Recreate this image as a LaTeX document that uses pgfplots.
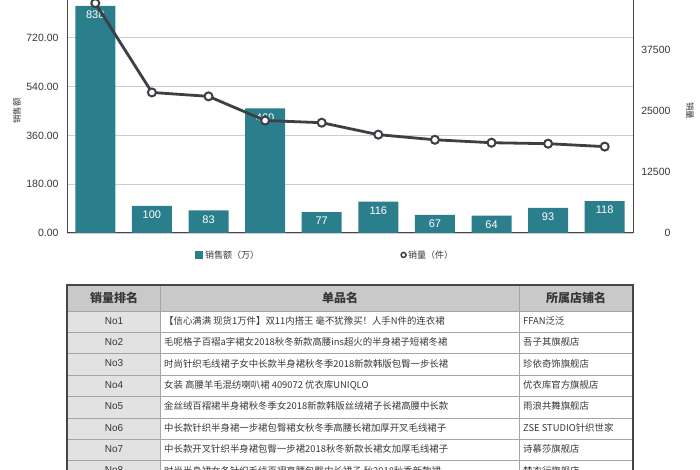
\documentclass[border=0pt]{standalone}
\usepackage{fontspec}
\setmainfont{Liberation Sans}
\newfontfamily\cjk{Noto Sans CJK SC}
\usepackage{pgfplots}
\pgfplotsset{compat=1.18}

\definecolor{barteal}{RGB}{43,127,140}
\definecolor{linegray}{RGB}{60,64,68}
\definecolor{gridgray}{RGB}{205,205,205}
\definecolor{axisgray}{RGB}{70,70,70}
\definecolor{hdrgray}{RGB}{201,201,201}
\definecolor{colgray}{RGB}{226,226,226}
\definecolor{rulegray}{RGB}{165,165,165}
\definecolor{txtgray}{RGB}{55,55,55}

\begin{document}
\begin{tikzpicture}[x=1pt,y=1pt]
\useasboundingbox (0,0) rectangle (700,470);
\begin{scope}
\clip (0,0) rectangle (700,470);

% sales amount (left axis)
\begin{axis}[
  at={(67pt,237pt)}, anchor=south west,
  scale only axis, width=566pt, height=244pt,
  xmin=0.5, xmax=10.5, ymin=0, ymax=900,
  xtick=\empty,
  ytick={0,180,360,540,720},
  ymajorgrids, grid style={gridgray, line width=0.8pt},
  axis line style={axisgray, line width=1pt},
  major tick length=0pt,
  /pgf/number format/assume math mode=true,
  yticklabel style={/pgf/number format/.cd, fixed, fixed zerofill, precision=2, /tikz/.cd,
    font=\fontsize{10.5}{12}\selectfont, text=txtgray, xshift=-5pt},
  ylabel={销售额},
  ylabel style={font=\cjk\fontsize{8.5}{10}\selectfont, text=txtgray,
    at={(axis description cs:-0.0883,0.5)}, anchor=center},
  legend style={draw=none, at={(0.456,-0.09)}, anchor=center,
    font=\cjk\fontsize{9}{11}\selectfont, text=txtgray,
    /tikz/every even column/.append style={column sep=140pt}},
  legend columns=2,
]
\addplot[ybar, bar width=40pt, bar shift=0pt, fill=barteal, draw=none,
  legend image code/.code={\fill[barteal] (0pt,-4pt) rectangle (8pt,4pt);},
  nodes near coords,
  nodes near coords style={font=\fontsize{11}{12}\selectfont, text=white, anchor=center, yshift=-9pt}]
  coordinates {(1,838) (2,100) (3,83) (4,460) (5,77) (6,116) (7,67) (8,64) (9,93) (10,118)};
\addlegendentry{销售额（万）}
\addlegendimage{only marks, mark=*, mark size=2.5pt, mark options={fill=white, draw=linegray, line width=1.5pt}}
\addlegendentry{销量（件）}
\end{axis}

% sales volume (right axis)
\begin{axis}[
  at={(67pt,237pt)}, anchor=south west,
  scale only axis, width=566pt, height=244pt,
  xmin=0.5, xmax=10.5, ymin=0, ymax=50000,
  axis x line=none, axis y line*=right,
  axis line style={axisgray, line width=1pt},
  ytick={0,12500,25000,37500},
  major tick length=0pt,
  scaled y ticks=false,
  /pgf/number format/assume math mode=true,
  yticklabel style={/pgf/number format/1000 sep={}, font=\fontsize{10.5}{12}\selectfont,
    text=txtgray, anchor=east, xshift=41pt},
  ylabel={销量},
  ylabel style={font=\cjk\fontsize{8.5}{10}\selectfont, text=txtgray,
    at={(axis description cs:1.1007,0.5)}, anchor=center, rotate=180},
]
\addplot[linegray, line width=2.8pt, mark=*, mark size=4pt,
  mark options={fill=white, draw=linegray, line width=2pt}]
  coordinates {(1,47100) (2,28800) (3,28000) (4,23050) (5,22600) (6,20150) (7,19100) (8,18500) (9,18300) (10,17700)};
\end{axis}

% ranking table
\fill[hdrgray] (67,185) rectangle (633,159);
\fill[colgray] (67,159) rectangle (160,-20);
\foreach \k in {0,...,8} {
  \draw[rulegray, line width=0.8pt] (67,{159-21.4*\k}) -- (633,{159-21.4*\k});
}
\draw[rulegray, line width=0.8pt] (160,185) -- (160,-20);
\draw[rulegray, line width=0.8pt] (519,185) -- (519,-20);
\draw[axisgray, line width=1.2pt] (67,-20) -- (67,185) -- (633,185) -- (633,-20);

\node[font=\cjk\bfseries\fontsize{12}{14}\selectfont, text=txtgray] at (114,172) {销量排名};
\node[font=\cjk\bfseries\fontsize{12}{14}\selectfont, text=txtgray] at (340,172) {单品名};
\node[font=\cjk\bfseries\fontsize{12}{14}\selectfont, text=txtgray] at (576,172) {所属店铺名};

\foreach \k/\item/\shop in {
  1/{【信心满满 现货1万件】双11内搭王 毫不犹豫买！人手N件的连衣裙}/{FFAN泛泛},
  2/{毛呢格子百褶a字裙女2018秋冬新款高腰ins超火的半身裙子短裙冬裙}/{吾子其旗舰店},
  3/{时尚针织毛线裙子女中长款半身裙秋冬季2018新款韩版包臀一步长裙}/{珍依奇饰旗舰店},
  4/{女装 高腰羊毛混纺喇叭裙 409072 优衣库UNIQLO}/{优衣库官方旗舰店},
  5/{金丝绒百褶裙半身裙秋冬季女2018新款韩版丝绒裙子长裙高腰中长款}/{雨浪共舞旗舰店},
  6/{中长款针织半身裙一步裙包臀裙女秋冬季高腰长裙加厚开叉毛线裙子}/{ZSE STUDIO针织世家},
  7/{中长款开叉针织半身裙包臀一步裙2018秋冬新款长裙女加厚毛线裙子}/{诗慕莎旗舰店},
  8/{时尚半身裙女冬针织毛线百褶高腰包臀中长裙子 秋2018秋季新款裙}/{梦衣行旗舰店}} {
  \node[font=\fontsize{10}{12}\selectfont, text=txtgray] at (114,{159-21.4*(\k-0.5)+1}) {No\k};
  \node[font=\cjk\fontsize{9.4}{11}\selectfont, text=txtgray, anchor=west, inner sep=0pt]
    at (164,{159-21.4*(\k-0.5)+1}) {\item};
  \node[font=\cjk\fontsize{9.4}{11}\selectfont, text=txtgray, anchor=west, inner sep=0pt]
    at (523,{159-21.4*(\k-0.5)+1}) {\shop};
}
\end{scope}
\end{tikzpicture}
\end{document}
